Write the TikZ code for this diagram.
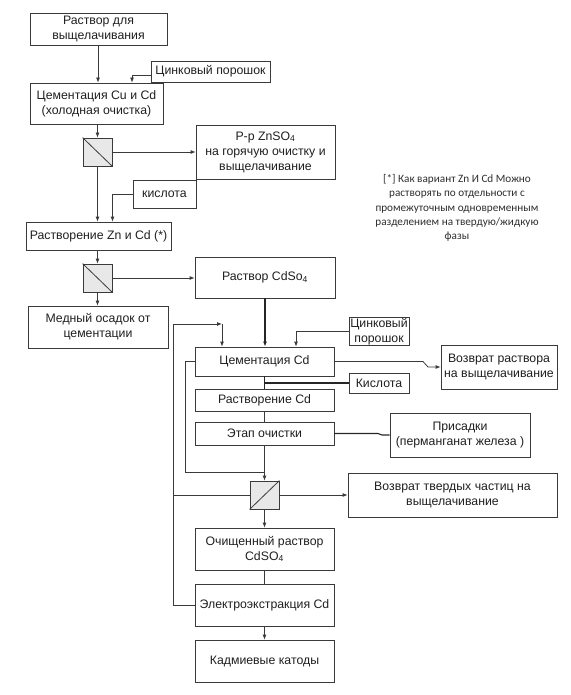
\documentclass[tikz,border=0pt]{standalone}
\usepackage{fontspec}
\setmainfont{Liberation Sans}
\newfontfamily\notefont{Carlito}
\usetikzlibrary{arrows.meta,calc}
\definecolor{ln}{HTML}{3A3A3A}
\definecolor{flt}{HTML}{E8E8E8}
\tikzset{
  box/.style={draw=ln, line width=0.8pt, rectangle, align=center, inner sep=1pt,
    font=\fontsize{12.3}{15}\selectfont, text=black!88},
  filt/.style={draw=ln, line width=0.8pt, fill=flt, minimum width=29pt, minimum height=28pt, inner sep=0pt},
  con/.style={draw=ln, line width=0.8pt},
  heavy/.style={draw=black!85, line width=1.1pt},
  arr/.style={con, -{Latex[length=5pt,width=4pt]}},
}
\begin{document}
\begin{tikzpicture}[x=1pt,y=-1pt]
\useasboundingbox (0,0) rectangle (570,695);
% left column
\node[box, minimum width=137pt, minimum height=32pt] (box1) at (98.5,29) {Раствор для\\выщелачивания};
\node[box, minimum width=119pt, minimum height=21pt] (zincA) at (210.5,71.5) {Цинковый порошок};
\node[box, minimum width=133pt, minimum height=41pt] (cem1) at (96.5,103.5) {Цементация Cu и Cd\\(холодная очистка)};
\node[filt] (f1) at (97.5,152) {};
\node[box, minimum width=139pt, minimum height=54pt] (znso) at (265.5,152) {P-p ZnSO\textsubscript{4}\\на горячую очистку и\\выщелачивание};
\node[box, minimum width=63pt, minimum height=28pt] (acid1) at (164.5,194) {кислота};
\node[box, minimum width=145pt, minimum height=28pt] (dis1) at (98.5,236) {Растворение Zn и Cd (*)};
\node[filt] (f2) at (97.5,278) {};
\node[box, minimum width=140pt, minimum height=41pt] (cdso) at (265,277.5) {Раствор CdSo\textsubscript{4}};
\node[box, minimum width=140pt, minimum height=42pt] (cu) at (98,327) {Медный осадок от\\цементации};
% right column
\node[box, minimum width=139pt, minimum height=29pt] (cemcd) at (264.5,361.5) {Цементация Cd};
\node[box, minimum width=60pt, minimum height=25pt] (zincB) at (379,331.5) {Цинковый\\порошок};
\node[box, minimum width=116pt, minimum height=44pt] (ret1) at (499,367) {Возврат раствора\\на выщелачивание};
\node[box, minimum width=60pt, minimum height=20pt] (acid2) at (379,383) {Кислота};
\node[box, minimum width=139pt, minimum height=22pt] (discd) at (264.5,400) {Растворение Cd};
\node[box, minimum width=139pt, minimum height=23pt] (etap) at (264.5,433.5) {Этап очистки};
\node[box, minimum width=140pt, minimum height=44pt] (pris) at (460,435) {Присадки\\(перманганат железа )};
\node[filt] (f3) at (264.5,495) {};
\node[box, minimum width=209pt, minimum height=44pt] (ret2) at (452.5,495) {Возврат твердых частиц на\\выщелачивание};
\node[box, minimum width=139pt, minimum height=42pt] (pure) at (264.5,549) {Очищенный раствор\\CdSO\textsubscript{4}};
\node[box, minimum width=139pt, minimum height=42pt] (elec) at (264.5,605) {Электроэкстракция Cd};
\node[box, minimum width=139pt, minimum height=42pt] (cath) at (264.5,661) {Кадмиевые катоды};
% note
\node[align=center, font=\notefont\fontsize{11.2}{14.3}\selectfont, text=black!82] (note) at (457,208)
  {[*] Как вариант Zn И Cd Можно\\растворять по отдельности с\\промежуточным одновременным\\разделением на твердую/жидкую\\фазы};
% filter diagonals
\draw[con] (f1.north west) -- (f1.south east);
\draw[con] (f2.north west) -- (f2.south east);
\draw[con] (f3.south west) -- (f3.north east);
% connectors upper part
\draw[arr] ([xshift=-0.5pt]box1.south) -- ([xshift=-0.5pt]box1.south |- cem1.north);
\draw[arr] ([yshift=-3.5pt]zincA.west) -| ([xshift=35.5pt]cem1.north);
\draw[arr] (cem1.south -| f1) -- (f1.north);
\draw[arr] (f1.east) -- (f1.east -| znso.west);
\draw[arr] (f1.south) -- (f1.south |- dis1.north);
\draw[arr] (acid1.west) -| ([xshift=14pt]dis1.north);
\draw[arr] (dis1.south -| f2) -- (f2.north);
\draw[arr] (f2.east) -- (f2.east -| cdso.west);
\draw[arr] (f2.south) -- (f2.south |- cu.north);
% lower part
\draw[arr, heavy] (cdso.south) -- (cdso.south |- cemcd.north);
\draw[arr] (zincB.west) -| ([xshift=31.5pt]cemcd.north);
\coordinate (L1) at (173,324);
\coordinate (L2) at (222,324);
\draw[arr] (elec.west) -| (L1) -- (L2);
\draw[arr] (L2) -- (L2 |- cemcd.north);
\draw[con] (f3.west) -- (f3.west -| L1);
\coordinate (J) at (264.5,472);
\draw[con] (cemcd.west) -- (185,361.5) |- (J);
\draw[arr] (cemcd.east) -- (423,361.5) -- (428,367) -- (ret1.west);
\draw[heavy] (acid2.west) -- (acid2.west -| cemcd.south);
\draw[heavy] (cemcd.south) -- (discd.north);
\draw[con] (discd.south) -- (etap.north);
\draw[heavy] (etap.east) -- (378,433.5) -- (382,435) -- (pris.west);
\draw[arr] (etap.south) -- (f3.north);
\draw[arr] (f3.east) -- (f3.east -| ret2.west);
\draw[arr] (f3.south) -- (f3.south |- pure.north);
\draw[con] (pure.south) -- (elec.north);
\draw[arr] (elec.south) -- (cath.north);
\end{tikzpicture}
\end{document}
